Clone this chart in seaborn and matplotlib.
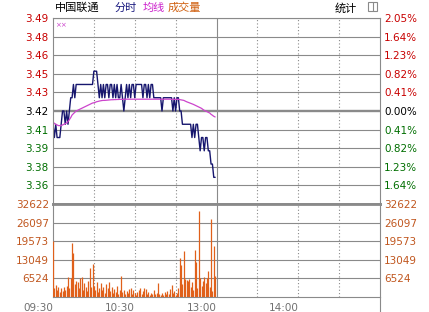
import matplotlib
matplotlib.use("Agg")
import matplotlib.pyplot as plt
import seaborn as sns
import pandas as pd
from matplotlib.patches import Rectangle
from matplotlib.lines import Line2D

sns.set_theme(style="white")
plt.rcParams['font.family'] = ['DejaVu Sans', 'Noto Sans CJK SC']

# ---------------- data ----------------
stock_name = "中国联通"
legend_labels = ["分时", "均线", "成交量"]
stat_label = "统计"
pre_close = 3.42
pct_step = 0.0041
price_ticklabels = ["3.36", "3.38", "3.39", "3.41", "3.42", "3.43", "3.45", "3.46", "3.48", "3.49"]
pct_ticklabels = ["1.64%", "1.23%", "0.82%", "0.41%", "0.00%", "0.41%", "0.82%", "1.23%", "1.64%", "2.05%"]
vol_ticks = [6524, 13049, 19573, 26097, 32622]
vol_ticklabels = ["6524", "13049", "19573", "26097", "32622"]
time_labels = ["09:30", "10:30", "13:00", "14:00"]
time_label_minutes = [0, 60, 120, 180]
session_minutes = 240

price = [
    3.41, 3.40, 3.41, 3.40, 3.40, 3.40, 3.41, 3.42, 3.42, 3.41,
    3.42, 3.41, 3.42, 3.43, 3.43, 3.44, 3.43, 3.44, 3.44, 3.44,
    3.44, 3.44, 3.44, 3.44, 3.44, 3.44, 3.44, 3.44, 3.44, 3.44,
    3.45, 3.45, 3.45, 3.44, 3.43, 3.44, 3.43, 3.44, 3.43, 3.44,
    3.44, 3.43, 3.44, 3.44, 3.43, 3.44, 3.43, 3.44, 3.43, 3.43,
    3.44, 3.43, 3.42, 3.43, 3.44, 3.43, 3.44, 3.43, 3.44, 3.44,
    3.43, 3.44, 3.44, 3.44, 3.44, 3.44, 3.43, 3.44, 3.44, 3.43,
    3.44, 3.43, 3.44, 3.44, 3.43, 3.43, 3.43, 3.43, 3.43, 3.43,
    3.42, 3.43, 3.43, 3.43, 3.43, 3.43, 3.43, 3.43, 3.42, 3.43,
    3.42, 3.43, 3.43, 3.42, 3.42, 3.41, 3.41, 3.41, 3.41, 3.41,
    3.41, 3.41, 3.40, 3.41, 3.40, 3.41, 3.41, 3.40, 3.39, 3.40,
    3.40, 3.39, 3.40, 3.40, 3.39, 3.39, 3.38, 3.38, 3.37, 3.37,
]

avg_price = [
    3.412, 3.4105, 3.410, 3.4095, 3.409, 3.409, 3.409, 3.4095, 3.410, 3.4105,
    3.411, 3.412, 3.4135, 3.415, 3.417, 3.418, 3.419, 3.420, 3.4205, 3.421,
    3.4215, 3.422, 3.4225, 3.423, 3.4235, 3.424, 3.4245, 3.425, 3.4255, 3.426,
    3.4262, 3.4265, 3.427, 3.4272, 3.4275, 3.4277, 3.4279, 3.428, 3.428, 3.4281,
    3.4282, 3.4283, 3.4284, 3.4285, 3.4285, 3.4286, 3.4286, 3.4287, 3.4287, 3.4288,
    3.4288, 3.4288, 3.4288, 3.4289, 3.4289, 3.4289, 3.4289, 3.4289, 3.4289, 3.4289,
    3.4289, 3.4289, 3.4289, 3.4289, 3.4289, 3.4289, 3.4289, 3.4289, 3.4289, 3.4289,
    3.4289, 3.4289, 3.4289, 3.4289, 3.4289, 3.4289, 3.4289, 3.4289, 3.4289, 3.4289,
    3.4289, 3.4289, 3.4289, 3.4289, 3.4289, 3.4289, 3.4289, 3.4288, 3.4288, 3.4288,
    3.4288, 3.4288, 3.4288, 3.4286, 3.4284, 3.4282, 3.428, 3.4275, 3.427, 3.4266,
    3.4262, 3.4258, 3.4254, 3.425, 3.4245, 3.424, 3.4235, 3.423, 3.4225, 3.422,
    3.4212, 3.4205, 3.420, 3.4195, 3.419, 3.4185, 3.4175, 3.4168, 3.416, 3.4155,
]

volume = [
    19600, 3300, 4100, 2600, 3500, 1800, 3000, 2200, 3600, 2600,
    3800, 7000, 3200, 6800, 18900, 15300, 4500, 5600, 5200, 3000,
    6700, 7000, 2500, 4800, 3600, 2200, 5500, 10300, 3500, 11500,
    4000, 2500, 5400, 1800, 3000, 4800, 2400, 3600, 1500, 4500,
    3300, 5300, 2000, 3400, 1500, 2700, 1800, 4000, 1200, 2300,
    7300, 1600, 2400, 1000, 2200, 1400, 2800, 3200, 1200, 2500,
    1500, 800, 1800, 2500, 3000, 1200, 2200, 3300, 2800, 1000,
    1800, 700, 1500, 1200, 2400, 900, 1400, 5000, 1200, 800,
    1500, 600, 1800, 1100, 2200, 1000, 2700, 4200, 1500, 2000,
    800, 1400, 3000, 13600, 11400, 4500, 16000, 6300, 5800, 5500,
    6400, 3500, 5200, 2500, 16500, 12400, 3000, 30100, 6500, 4000,
    5600, 7000, 5000, 6500, 9200, 3500, 27500, 2000, 18000, 7400,
]

minutes = list(range(len(price)))
df = pd.DataFrame({"minute": minutes, "price": price, "avg": avg_price, "volume": volume})

# ---------------- styling ----------------
RED = "#c80000"
GREEN = "#006e00"
ORANGE_TXT = "#c0561e"
BAR = "#e0601a"
NAVY = "#16166e"
MAGENTA = "#cc44cc"
GRID = "#8a8a8a"
TIME_TXT = "#707070"
FS = 7.5

W, H = 429, 312
fig = plt.figure(figsize=(W / 100, H / 100), dpi=100)
fig.patch.set_facecolor("white")

def fx(px):
    return px / W

def fy(py):
    return 1 - py / H

L, R = 53, 380
T1, B1, B2 = 18, 204, 297
ax1 = fig.add_axes([fx(L), fy(B1), (R - L) / W, (B1 - T1) / H])
ax2 = fig.add_axes([fx(L), fy(B2), (R - L) / W, (B2 - B1) / H])

# price + average lines
sns.lineplot(data=df, x="minute", y="price", ax=ax1, color=NAVY, linewidth=1.0)
sns.lineplot(data=df, x="minute", y="avg", ax=ax1, color=MAGENTA, linewidth=0.9)

# volume bars (1-pixel columns)
ax2.vlines(df["minute"], 0, df["volume"], colors=BAR, linewidth=0.9, zorder=3)

lo = pre_close * (1 - 5 * pct_step)
hi = pre_close * (1 + 5 * pct_step)
price_ticks = [pre_close * (1 + k * pct_step) for k in range(-4, 6)]

for ax in (ax1, ax2):
    ax.set_xlim(0, session_minutes)
    ax.set_xlabel("")
    ax.set_ylabel("")
    ax.set_facecolor("white")
    for s in ax.spines.values():
        s.set_color(GRID)
        s.set_linewidth(0.8)
    for m in [30, 60, 90, 150, 180, 210]:
        ax.axvline(m, color=GRID, linewidth=0.8, linestyle=(0, (1, 2)), zorder=0)
    ax.axvline(120, color=GRID, linewidth=0.8, zorder=0)

ax1.set_ylim(lo, hi)
ax2.set_ylim(0, vol_ticks[-1])

for t in price_ticks:
    if abs(t - pre_close) < 1e-9:
        ax1.axhline(t, color=GRID, linewidth=1.7, zorder=0)
    else:
        ax1.axhline(t, color=GRID, linewidth=0.8, zorder=0)
for t in vol_ticks[:-1]:
    ax2.axhline(t, color=GRID, linewidth=0.8, zorder=0)
ax1.spines["bottom"].set_linewidth(2.0)
ax2.spines["top"].set_linewidth(2.0)

# price tick labels (left) and percent (right)
ax1.set_xticks([])
ax1.set_yticks(price_ticks)
ax1.set_yticklabels(price_ticklabels, fontsize=FS)
ax1.tick_params(axis="y", length=0, pad=3)
ax1r = ax1.twinx()
ax1r.set_ylim(lo, hi)
ax1r.set_yticks(price_ticks)
ax1r.set_yticklabels(pct_ticklabels, fontsize=FS)
ax1r.tick_params(axis="y", length=0, pad=3)
for s in ax1r.spines.values():
    s.set_visible(False)
ax1r.grid(False)

def lab_color(k):
    return GREEN if k < 0 else ("#000000" if k == 0 else RED)

for k, (a, b) in zip(range(-4, 6), zip(ax1.get_yticklabels(), ax1r.get_yticklabels())):
    a.set_color(lab_color(k))
    b.set_color(lab_color(k))

# volume tick labels both sides
ax2.set_yticks(vol_ticks)
ax2.set_yticklabels(vol_ticklabels, fontsize=FS, color=ORANGE_TXT)
ax2.tick_params(axis="y", length=0, pad=3, left=False, right=False,
                labelleft=True, labelright=True, labelcolor=ORANGE_TXT)

# time labels
ax2.set_xticks(time_label_minutes)
ax2.set_xticklabels(time_labels, fontsize=FS, color=TIME_TXT, ha="right")
ax2.tick_params(axis="x", length=0, pad=4)

# right border extension below the volume pane
fig.add_artist(Line2D([fx(R), fx(R)], [fy(B2), 0], transform=fig.transFigure,
                      color=GRID, linewidth=0.8))

# header texts
ty = fy(8)
fig.text(fx(55), ty, stock_name, fontsize=8, color="#000000", va="center", ha="left")
fig.text(fx(115), ty, legend_labels[0], fontsize=8, color="#1a1a80", va="center", ha="left")
fig.text(fx(143), ty, legend_labels[1], fontsize=8, color="#cc22cc", va="center", ha="left")
fig.text(fx(168), ty, legend_labels[2], fontsize=8, color="#d06010", va="center", ha="left")
fig.text(fx(335), ty, stat_label, fontsize=8, color="#000000", va="center", ha="left")
fig.add_artist(Rectangle((fx(368), fy(11)), 9 / W, 9 / H, transform=fig.transFigure,
                         fill=False, edgecolor=GRID, linewidth=0.8))
fig.add_artist(Line2D([fx(372.5), fx(372.5)], [fy(11), fy(2)], transform=fig.transFigure,
                      color=GRID, linewidth=0.8))
fig.text(fx(55), fy(25.5), "××", fontsize=5, color="#cc44cc", va="center", ha="left")

fig.savefig("out.png", dpi=100, facecolor="white")
